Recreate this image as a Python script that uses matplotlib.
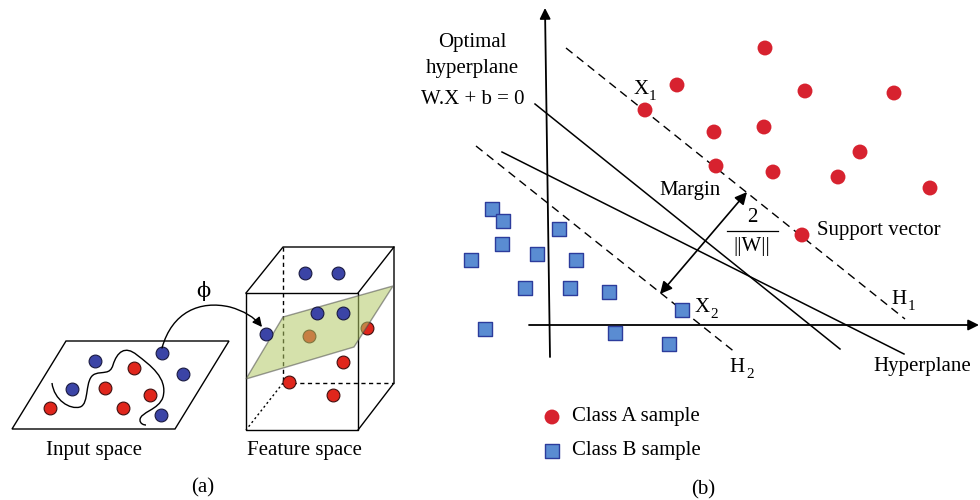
import numpy as np
import matplotlib.pyplot as plt
from matplotlib.path import Path
from matplotlib.patches import Polygon, PathPatch, FancyArrowPatch

plt.rcParams['font.family'] = ['Liberation Serif', 'DejaVu Serif']

# ---- panel (a): input space ----
input_plane = [(66, 341), (229, 341), (175, 429), (12, 429)]
input_blue_x = [95, 72, 162, 183, 161]
input_blue_y = [361, 389, 353, 374, 415]
input_red_x = [50, 134, 105, 150, 123]
input_red_y = [408, 368, 388, 395, 408]
# squiggly boundary (bezier: start, then ctrl, ctrl, end per segment)
boundary = [(52, 383),
            (54, 400), (70, 410), (80, 407),
            (90, 404), (84, 378), (95, 374),
            (103, 371), (110, 375), (113, 365),
            (117, 352), (125, 345), (137, 355),
            (150, 365), (168, 378), (163, 397),
            (159, 410), (140, 412), (140, 420),
            (140, 424), (144, 425), (146, 425)]
phi_path = [(162, 348), (172, 312), (200, 300), (230, 307),
            (244, 311), (254, 317), (262, 327)]

# ---- panel (a): feature space ----
cube_solid = [[(246, 293), (358, 293), (358, 430), (246, 430), (246, 293)],
              [(246, 293), (283, 247), (394, 247), (358, 293)],
              [(394, 247), (394, 383), (358, 430)]]
cube_dashed = [[(283, 247), (283, 383), (394, 383)]]
cube_dotted = [[(283, 383), (246, 430)]]
feat_plane = [(246, 379), (283, 317), (393, 286), (354, 347)]
feat_blue_x = [305, 338, 317, 343, 266]
feat_blue_y = [273, 273, 313, 313, 334]
feat_red_x = [367, 309, 343, 289, 333]
feat_red_y = [328, 336, 362, 382, 395]

# ---- panel (b) ----
class_a_x = [765, 677, 805, 894, 645, 714, 764, 716, 773, 860, 838, 930, 802]
class_a_y = [48, 85, 91, 93, 110, 132, 127, 166, 172, 152, 177, 188, 235]
class_b_x = [492, 503, 559, 502, 471, 537, 576, 525, 570, 609, 682, 485, 615, 669]
class_b_y = [209, 221, 229, 244, 260, 254, 260, 288, 288, 292, 310, 329, 333, 344]
hyper_lines = [[(535, 104), (840, 349)], [(502, 152), (904, 354)]]
margin_lines = [[(566, 48), (905, 319)], [(476, 146), (736, 353)]]
y_axis = [(550, 357), (545, 8)]
x_axis = [(529, 325), (979, 325)]
margin_arrow = [(747, 192), (660, 294)]

red_a, blue_a = '#e0261c', '#3b44a6'
red_b, blue_b = '#d7222f', '#5a8cd2'

fig = plt.figure(figsize=(9.8, 5.0), dpi=100)
ax = fig.add_axes([0, 0, 1, 1])
ax.set_xlim(0, 980)
ax.set_ylim(500, 0)
ax.axis('off')

lw = 1.0
ax.add_patch(Polygon(input_plane, closed=True, fill=False, ec='black', lw=lw))
codes = [Path.MOVETO] + [Path.CURVE4] * (len(boundary) - 1)
ax.add_patch(PathPatch(Path(boundary, codes), fill=False, ec='black', lw=lw))
ax.scatter(input_blue_x, input_blue_y, s=85, c=blue_a, edgecolors='#1a1a40', linewidths=0.8, zorder=3)
ax.scatter(input_red_x, input_red_y, s=85, c=red_a, edgecolors='#401010', linewidths=0.8, zorder=3)

phi_codes = [Path.MOVETO] + [Path.CURVE4] * (len(phi_path) - 1)
ax.add_patch(FancyArrowPatch(path=Path(phi_path, phi_codes), arrowstyle='-|>',
                             mutation_scale=14, color='black', lw=lw, zorder=4))
ax.text(203, 291, 'ϕ', fontsize=15, ha='center', va='center', family=['DejaVu Serif'])

for seg in cube_solid:
    xs, ys = zip(*seg)
    ax.plot(xs, ys, color='black', lw=lw, zorder=1)
for seg in cube_dashed:
    xs, ys = zip(*seg)
    ax.plot(xs, ys, color='black', lw=lw, ls=(0, (3, 2.5)), zorder=1)
for seg in cube_dotted:
    xs, ys = zip(*seg)
    ax.plot(xs, ys, color='black', lw=lw, ls=(0, (1.5, 2)), zorder=1)

ax.scatter(feat_red_x, feat_red_y, s=85, c=red_a, edgecolors='#401010', linewidths=0.8, zorder=2)
ax.add_patch(Polygon(feat_plane, closed=True, fc='#b3ca66', ec='#4a4a4a', lw=1.0, alpha=0.55, zorder=3))
ax.scatter(feat_blue_x, feat_blue_y, s=85, c=blue_a, edgecolors='#1a1a40', linewidths=0.8, zorder=4)

fs = 15
ax.text(94, 450, 'Input space', fontsize=fs, ha='center', va='center')
ax.text(304, 450, 'Feature space', fontsize=fs, ha='center', va='center')
ax.text(203, 488, '(a)', fontsize=fs, ha='center', va='center')

# ---- panel (b) drawing ----
ax.add_patch(FancyArrowPatch(y_axis[0], y_axis[1], arrowstyle='-|>', mutation_scale=16,
                             color='black', lw=1.3, shrinkA=0, shrinkB=0))
ax.add_patch(FancyArrowPatch(x_axis[0], x_axis[1], arrowstyle='-|>', mutation_scale=16,
                             color='black', lw=1.3, shrinkA=0, shrinkB=0))
for seg in hyper_lines:
    xs, ys = zip(*seg)
    ax.plot(xs, ys, color='black', lw=1.1)
for seg in margin_lines:
    xs, ys = zip(*seg)
    ax.plot(xs, ys, color='black', lw=1.0, ls=(0, (6, 4)))
ax.add_patch(FancyArrowPatch(margin_arrow[0], margin_arrow[1], arrowstyle='<|-|>',
                             mutation_scale=18, color='black', lw=1.2, shrinkA=0, shrinkB=0))

ax.scatter(class_a_x, class_a_y, s=115, c=red_b, edgecolors='none', zorder=3)
ax.scatter(class_b_x, class_b_y, s=100, marker='s', c=blue_b, edgecolors='#2c3c9c', linewidths=1.0, zorder=3)

ax.text(472, 43, 'Optimal', fontsize=fs, ha='center', va='center')
ax.text(472, 68, 'hyperplane', fontsize=fs, ha='center', va='center')
ax.text(473, 99, 'W.X + b = 0', fontsize=fs, ha='center', va='center')


def sub_label(x, y, main, sub, gap):
    # main letter with a lowered, smaller subscript
    ax.text(x, y, main, fontsize=fs, ha='left', va='center')
    ax.text(x + gap, y + 7, sub, fontsize=11, ha='left', va='center')


sub_label(634, 89, 'X', '1', 15)
sub_label(695, 307, 'X', '2', 15)
sub_label(891, 299, 'H', '1', 17)
sub_label(729, 368, 'H', '2', 17)

ax.text(690, 190, 'Margin', fontsize=fs, ha='center', va='center')
ax.text(752, 218, '2', fontsize=fs, ha='center', va='center')
ax.plot([727, 778], [231, 231], color='black', lw=0.9)
ax.text(752, 246, '||W||', fontsize=fs, ha='center', va='center')
ax.text(817, 230, 'Support vector', fontsize=fs, ha='left', va='center')
ax.text(922, 366, 'Hyperplane', fontsize=fs, ha='center', va='center')

# legend
ax.scatter([552], [417], s=115, c=red_b, edgecolors='none')
ax.scatter([552], [451], s=100, marker='s', c=blue_b, edgecolors='#2c3c9c', linewidths=1.0)
ax.text(572, 417, 'Class A sample', fontsize=fs, ha='left', va='center')
ax.text(572, 451, 'Class B sample', fontsize=fs, ha='left', va='center')
ax.text(703, 490, '(b)', fontsize=fs, ha='center', va='center')

fig.savefig('out.png', dpi=100)
